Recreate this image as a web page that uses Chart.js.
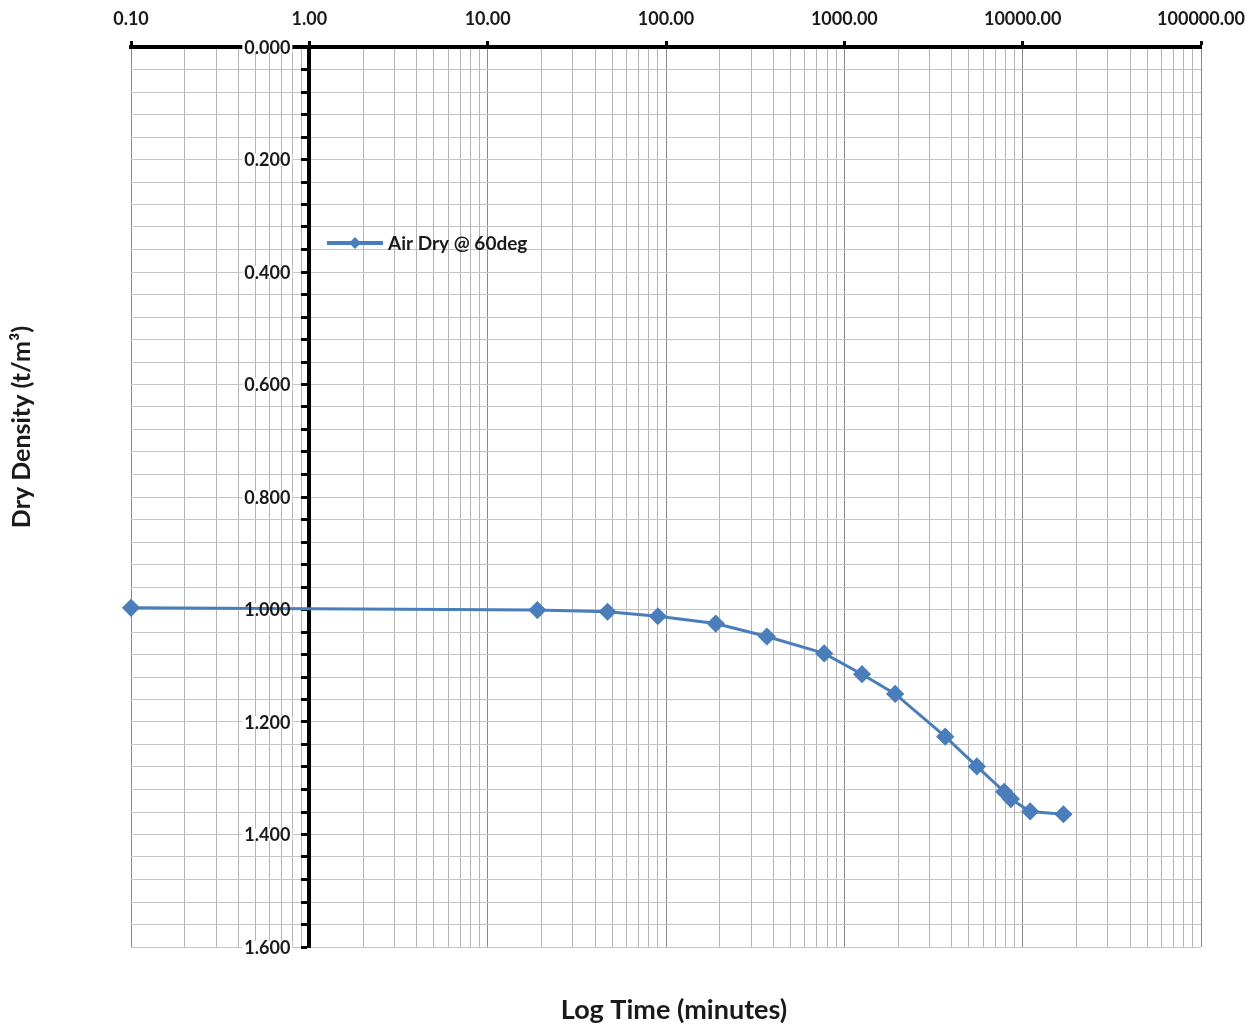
<!DOCTYPE html>
<html>
<head>
<meta charset="utf-8">
<title>Dry Density vs Log Time</title>
<script src="https://cdn.jsdelivr.net/npm/chart.js@4.4.1/dist/chart.umd.min.js"></script>
<style>
  html, body { margin: 0; padding: 0; background: #ffffff; }
  #wrap { position: relative; width: 1259px; height: 1025px; }
</style>
</head>
<body>
<div id="wrap"><canvas id="chart" width="1259" height="1025"></canvas></div>
<script>
// Drying test: time in minutes vs dry density (t/m³)
const seriesLabel = 'Air Dry @ 60deg';
const timeMinutes = [0.1, 19, 47, 90, 190, 368, 771, 1256, 1928, 3680, 5535, 7875, 8590, 11020, 16930];
const dryDensity  = [0.997, 1.001, 1.004, 1.012, 1.025, 1.048, 1.078, 1.115, 1.150, 1.226, 1.279, 1.324, 1.337, 1.359, 1.364];

// Axis ranges and tick layout
const xDecades = [-1, 0, 1, 2, 3, 4, 5];
const yMin = 0, yMax = 1.6, yMinorStep = 0.04, yLabelStep = 0.2;
const xTitle = 'Log Time (minutes)';
const yTitle = 'Dry Density (t/m³)';

// log-axis tick values: 1..9 within every decade, ending on the last decade
const xTickValues = [];
xDecades.forEach((d, i) => {
  const base = Math.pow(10, d);
  const last = i === xDecades.length - 1;
  for (let m = 1; m <= (last ? 1 : 9); m++) xTickValues.push(+(m * base).toPrecision(6));
});

const isDecade = v => Math.abs(Math.log10(v) - Math.round(Math.log10(v))) < 1e-9;
const isYLabel = v => Math.abs(v / yLabelStep - Math.round(v / yLabelStep)) < 1e-6;

const FONT = 'Lato, "Open Sans", "Liberation Sans", sans-serif';
const BLUE = '#4a7ebb';
const TEXT = '#1a1a1a';
const Y_LABEL_FONT = 'bold 18px ' + FONT;

// y labels sit beside the axis that crosses at x = 1
function eachYLabel(chart, fn) {
  const ys = chart.scales.y;
  const axisX = chart.scales.x.getPixelForValue(1);
  ys.ticks.forEach(t => {
    if (isYLabel(t.value)) fn(Number(t.value).toFixed(3), axisX - 19, ys.getPixelForValue(t.value));
  });
}

const decorations = {
  id: 'decorations',
  beforeDatasetsDraw(chart) {
    // clear the grid behind each y label
    const { ctx } = chart;
    ctx.save();
    ctx.font = Y_LABEL_FONT;
    ctx.fillStyle = '#ffffff';
    eachYLabel(chart, (label, x, y) => {
      const w = ctx.measureText(label).width;
      ctx.fillRect(x - w - 2, y - 6, w + 4, 12);
    });
    ctx.restore();
  },
  afterDraw(chart) {
    const { ctx, chartArea } = chart;

    ctx.save();
    ctx.font = Y_LABEL_FONT;
    ctx.textAlign = 'right';
    ctx.textBaseline = 'middle';
    ctx.fillStyle = TEXT;
    eachYLabel(chart, (label, x, y) => ctx.fillText(label, x, y + 1));
    ctx.restore();

    ctx.save();
    ctx.fillStyle = TEXT;
    ctx.textAlign = 'center';
    ctx.textBaseline = 'middle';
    ctx.font = 'bold 27px ' + FONT;
    ctx.fillText(xTitle, 674, 1010);
    ctx.translate(22, 427);
    ctx.rotate(-Math.PI / 2);
    ctx.font = 'bold 25px ' + FONT;
    ctx.fillText(yTitle, 0, 0);
    ctx.restore();

    // legend entry
    const lx = chartArea.left + 196, ly = chartArea.top + 196;
    ctx.save();
    ctx.strokeStyle = BLUE;
    ctx.lineWidth = 4;
    ctx.beginPath();
    ctx.moveTo(lx, ly);
    ctx.lineTo(lx + 56, ly);
    ctx.stroke();
    ctx.fillStyle = BLUE;
    ctx.beginPath();
    ctx.moveTo(lx + 28, ly - 6);
    ctx.lineTo(lx + 34, ly);
    ctx.lineTo(lx + 28, ly + 6);
    ctx.lineTo(lx + 22, ly);
    ctx.closePath();
    ctx.fill();
    ctx.fillStyle = TEXT;
    ctx.font = 'bold 19px ' + FONT;
    ctx.textAlign = 'left';
    ctx.textBaseline = 'middle';
    ctx.fillText(chart.data.datasets[0].label, lx + 61, ly + 1);
    ctx.restore();
  }
};

new Chart(document.getElementById('chart'), {
  type: 'line',
  data: {
    datasets: [{
      label: seriesLabel,
      data: timeMinutes.map((t, i) => ({ x: t, y: dryDensity[i] })),
      borderColor: BLUE,
      backgroundColor: BLUE,
      borderWidth: 3,
      pointStyle: 'rectRot',
      pointRadius: 7,
      pointHoverRadius: 7,
      pointBackgroundColor: BLUE,
      pointBorderColor: BLUE,
      tension: 0,
      clip: false
    }]
  },
  options: {
    responsive: false,
    animation: false,
    devicePixelRatio: 1,
    layout: { padding: { left: 131, right: 58, top: 0, bottom: 78 } },
    plugins: { legend: { display: false }, tooltip: { enabled: false } },
    scales: {
      x: {
        type: 'logarithmic',
        position: 'top',
        min: xTickValues[0],
        max: xTickValues[xTickValues.length - 1],
        afterBuildTicks: s => { s.ticks = xTickValues.map(v => ({ value: v })); },
        afterFit: s => { s.height = 47; },
        ticks: {
          autoSkip: false,
          maxRotation: 0,
          padding: 11,
          color: TEXT,
          font: { family: FONT, size: 18, weight: 'bold' },
          callback: v => isDecade(v) ? Number(v).toFixed(2) : ''
        },
        grid: {
          color: c => (c.tick && isDecade(c.tick.value)) ? '#8a8a8a' : '#b4b4b4',
          lineWidth: 1,
          tickColor: c => (c.tick && isDecade(c.tick.value)) ? '#000' : 'rgba(0,0,0,0)',
          tickLength: 6,
          tickWidth: 3
        },
        border: { display: true, color: '#000', width: 4 }
      },
      y: {
        type: 'linear',
        reverse: true,
        min: yMin,
        max: yMax,
        position: { x: 1 },
        ticks: {
          stepSize: yMinorStep,
          autoSkip: false,
          display: false
        },
        grid: {
          color: '#c4c4c4',
          lineWidth: 1,
          tickColor: '#000',
          tickLength: 6,
          tickWidth: 3
        },
        border: { display: true, color: '#000', width: 4 }
      }
    }
  },
  plugins: [decorations]
});
</script>
</body>
</html>
